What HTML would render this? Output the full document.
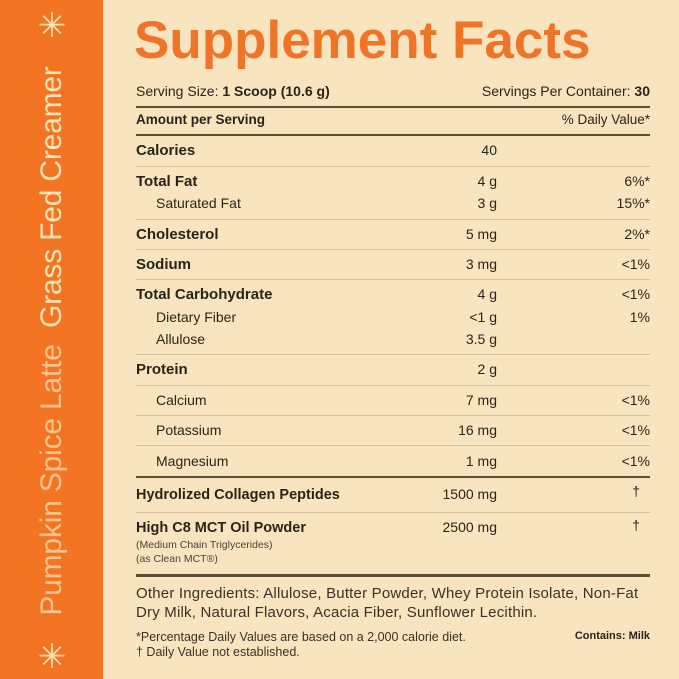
<!DOCTYPE html>
<html><head><style>
body{margin:0;width:679px;height:679px;overflow:hidden;background:#f8e4bf;font-family:"Liberation Sans",sans-serif;color:#2a2418;position:relative}
.bar{position:absolute;left:0;top:0;width:103px;height:679px;background:#f37423}
.vt{position:absolute;left:52px;top:341px;transform:translate(-50%,-50%) rotate(-90deg);white-space:nowrap;font-size:30px;color:#fbe3b8;letter-spacing:-0.2px}
.vt span{opacity:.72;font-weight:normal}
.star{position:absolute;color:#fbe3b8;font-size:34px;line-height:1;transform:translate(-50%,-50%);left:52px}
.t{position:absolute;white-space:nowrap;font-size:14px;line-height:1}
.b{font-weight:bold}
.ln{position:absolute;left:136px;width:514px;height:1px;background:#d6c29c}
.tk{position:absolute;left:136px;width:514px;height:2px;background:#5b5036}
</style></head><body>
<div class="bar"></div>
<div class="vt"><span>Pumpkin Spice Latte</span>&nbsp; Grass Fed Creamer</div>
<div class="star" style="top:26px">✳</div>
<div class="star" style="top:657px">✳</div>
<div class="t b" style="left:134px;top:14px;font-size:53px;color:#f07428;letter-spacing:0px">Supplement Facts</div>
<div class="t" style="left:136px;top:84px">Serving Size: <b>1 Scoop (10.6 g)</b></div>
<div class="t" style="right:29px;top:84px">Servings Per Container: <b>30</b></div>
<div class="tk" style="top:106px"></div>
<div class="t b" style="left:136px;top:113px;font-size:13.5px">Amount per Serving</div>
<div class="t" style="right:29px;top:113px;font-size:13.5px">% Daily Value*</div>
<div class="tk" style="top:134px"></div>

<div class="t b" style="left:136px;top:143px;font-size:15px">Calories</div><div class="t" style="right:182px;top:143px">40</div>
<div class="ln" style="top:166px"></div>
<div class="t b" style="left:136px;top:174px;font-size:15px">Total Fat</div><div class="t" style="right:182px;top:174px">4 g</div><div class="t" style="right:29px;top:174px">6%*</div>
<div class="t" style="left:156px;top:196px">Saturated Fat</div><div class="t" style="right:182px;top:196px">3 g</div><div class="t" style="right:29px;top:196px">15%*</div>
<div class="ln" style="top:219px"></div>
<div class="t b" style="left:136px;top:227px;font-size:15px">Cholesterol</div><div class="t" style="right:182px;top:227px">5 mg</div><div class="t" style="right:29px;top:227px">2%*</div>
<div class="ln" style="top:249px"></div>
<div class="t b" style="left:136px;top:257px;font-size:15px">Sodium</div><div class="t" style="right:182px;top:257px">3 mg</div><div class="t" style="right:29px;top:257px">&lt;1%</div>
<div class="ln" style="top:279px"></div>
<div class="t b" style="left:136px;top:287px;font-size:15px">Total Carbohydrate</div><div class="t" style="right:182px;top:287px">4 g</div><div class="t" style="right:29px;top:287px">&lt;1%</div>
<div class="t" style="left:156px;top:310px">Dietary Fiber</div><div class="t" style="right:182px;top:310px">&lt;1 g</div><div class="t" style="right:29px;top:310px">1%</div>
<div class="t" style="left:156px;top:332px">Allulose</div><div class="t" style="right:182px;top:332px">3.5 g</div>
<div class="ln" style="top:354px"></div>
<div class="t b" style="left:136px;top:362px;font-size:15px">Protein</div><div class="t" style="right:182px;top:362px">2 g</div>
<div class="ln" style="top:385px"></div>
<div class="t" style="left:156px;top:393px">Calcium</div><div class="t" style="right:182px;top:393px">7 mg</div><div class="t" style="right:29px;top:393px">&lt;1%</div>
<div class="ln" style="top:415px"></div>
<div class="t" style="left:156px;top:423px">Potassium</div><div class="t" style="right:182px;top:423px">16 mg</div><div class="t" style="right:29px;top:423px">&lt;1%</div>
<div class="ln" style="top:445px"></div>
<div class="t" style="left:156px;top:454px">Magnesium</div><div class="t" style="right:182px;top:454px">1 mg</div><div class="t" style="right:29px;top:454px">&lt;1%</div>
<div class="tk" style="top:476px"></div>
<div class="t b" style="left:136px;top:488px;font-size:14.5px">Hydrolized Collagen Peptides</div><div class="t" style="right:182px;top:487px">1500 mg</div><div class="t" style="right:39px;top:484px">†</div>
<div class="ln" style="top:512px"></div>
<div class="t b" style="left:136px;top:521px;font-size:14.5px">High C8 MCT Oil Powder</div><div class="t" style="right:182px;top:520px">2500 mg</div><div class="t" style="right:39px;top:518px">†</div>
<div class="t" style="left:136px;top:540px;font-size:10.5px;color:#4a4232">(Medium Chain Triglycerides)</div>
<div class="t" style="left:136px;top:554px;font-size:10.5px;color:#4a4232">(as Clean MCT®)</div>
<div class="tk" style="top:574px;height:3px"></div>
<div class="t" style="left:136px;top:584px;font-size:15px;line-height:19px;color:#3a3222;letter-spacing:0.2px">Other Ingredients: Allulose, Butter Powder, Whey Protein Isolate, Non-Fat<br>Dry Milk, Natural Flavors, Acacia Fiber, Sunflower Lecithin.</div>
<div class="t" style="left:136px;top:630px;font-size:12.5px;line-height:15px;color:#3a3222">*Percentage Daily Values are based on a 2,000 calorie diet.<br>† Daily Value not established.</div>
<div class="t b" style="right:29px;top:631px;font-size:11px">Contains: Milk</div>
</body></html>
